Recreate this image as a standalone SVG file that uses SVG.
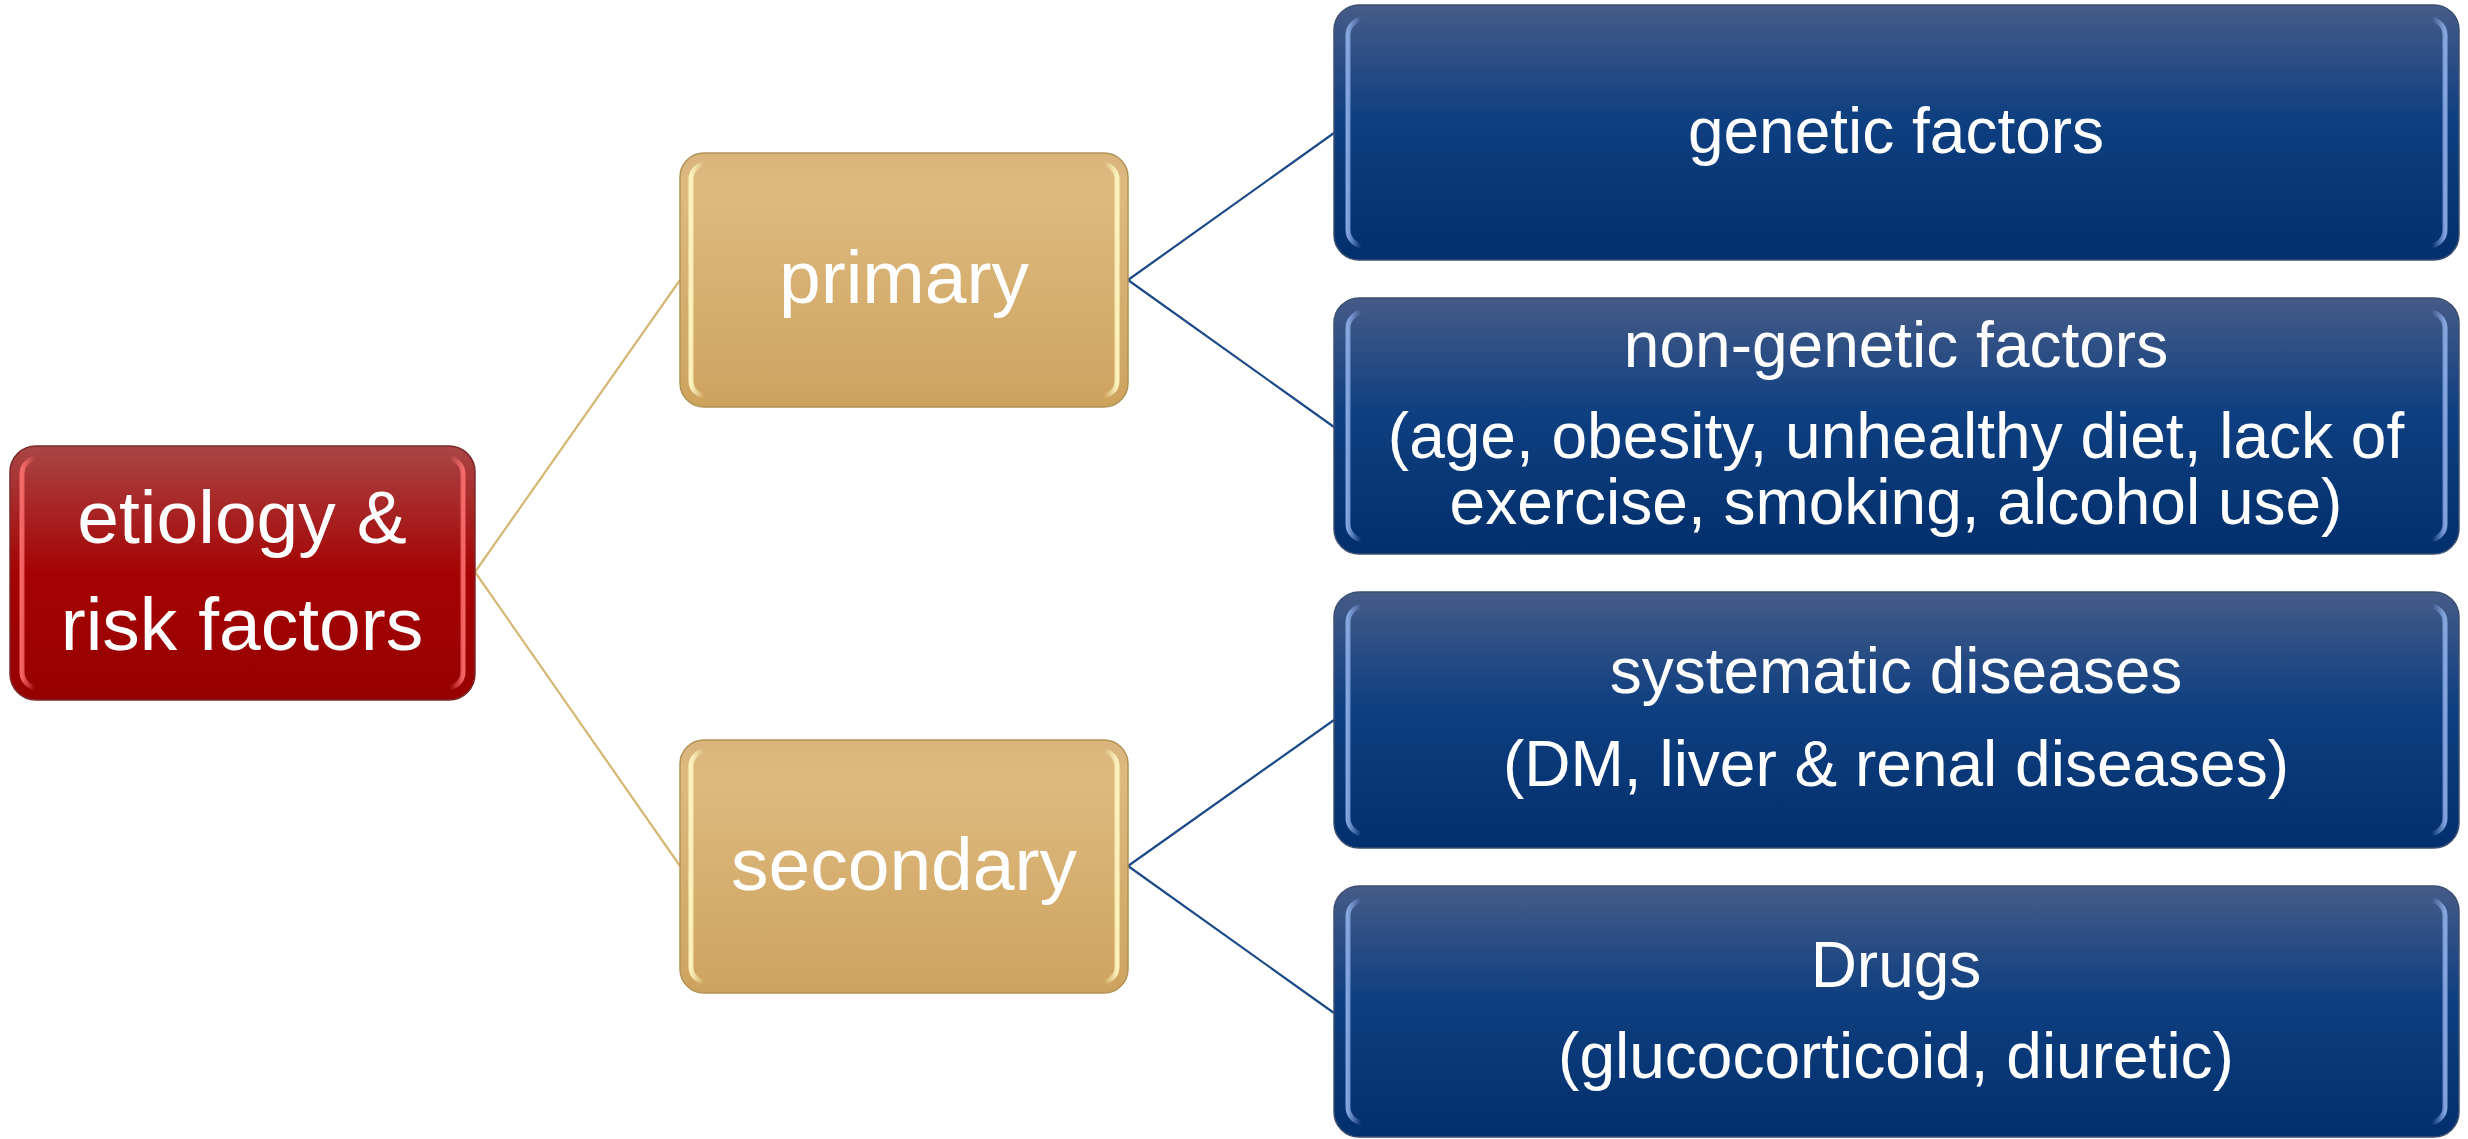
<svg xmlns="http://www.w3.org/2000/svg" width="2468" height="1139" viewBox="0 0 2468 1139">
<defs>
<linearGradient id="gRed" x1="0" y1="0" x2="0" y2="1">
<stop offset="0" stop-color="#aa4646"/>
<stop offset="0.5" stop-color="#a50303"/>
<stop offset="1" stop-color="#970000"/>
</linearGradient>
<linearGradient id="gTan" x1="0" y1="0" x2="0" y2="1">
<stop offset="0" stop-color="#d9b57c"/>
<stop offset="0.15" stop-color="#deba80"/>
<stop offset="1" stop-color="#cda35e"/>
</linearGradient>
<linearGradient id="gBlue" x1="0" y1="0" x2="0" y2="1">
<stop offset="0" stop-color="#465b88"/>
<stop offset="0.45" stop-color="#0e3f80"/>
<stop offset="1" stop-color="#022f6d"/>
</linearGradient>
<linearGradient id="hRed" x1="0" y1="0" x2="1" y2="0">
<stop offset="0" stop-color="#ff7070" stop-opacity="0.9"/>
<stop offset="0.03" stop-color="#ff7070" stop-opacity="0"/>
<stop offset="0.97" stop-color="#ff7070" stop-opacity="0"/>
<stop offset="1" stop-color="#ff7070" stop-opacity="0.9"/>
</linearGradient>
<linearGradient id="hTan" x1="0" y1="0" x2="1" y2="0">
<stop offset="0" stop-color="#fff6c0" stop-opacity="0.95"/>
<stop offset="0.03" stop-color="#fff6c0" stop-opacity="0"/>
<stop offset="0.97" stop-color="#fff6c0" stop-opacity="0"/>
<stop offset="1" stop-color="#fff6c0" stop-opacity="0.95"/>
</linearGradient>
<linearGradient id="hBlue" x1="0" y1="0" x2="1" y2="0">
<stop offset="0" stop-color="#8fb0ea" stop-opacity="0.9"/>
<stop offset="0.012" stop-color="#8fb0ea" stop-opacity="0"/>
<stop offset="0.988" stop-color="#8fb0ea" stop-opacity="0"/>
<stop offset="1" stop-color="#8fb0ea" stop-opacity="0.9"/>
</linearGradient>
</defs>
<style>
.red{fill:url(#gRed);stroke:#7a2a2a;stroke-width:1.5}
.tan{fill:url(#gTan);stroke:#b39257;stroke-width:1.5}
.blue{fill:url(#gBlue);stroke:#3d4f70;stroke-width:1.5}
.hred{fill:none;stroke:url(#hRed);stroke-width:5}
.htan{fill:none;stroke:url(#hTan);stroke-width:5}
.hblue{fill:none;stroke:url(#hBlue);stroke-width:5}
text{font-family:"Liberation Sans",Arial,sans-serif;fill:#ffffff;text-anchor:middle}
.big{font-size:75px}
.mid{font-size:64px}
.c-tan{fill:none;stroke:#d6b673;stroke-width:2.2}
.c-blue{fill:none;stroke:#1b4a86;stroke-width:2.2}
</style>
<g id="connectors">
<path class="c-tan" d="M475,572 L680,280"/>
<path class="c-tan" d="M475,572 L680,866"/>
<path class="c-blue" d="M1128,280 L1334,133"/>
<path class="c-blue" d="M1128,280 L1334,427"/>
<path class="c-blue" d="M1128,866 L1334,720"/>
<path class="c-blue" d="M1128,866 L1334,1013"/>
</g>
<g id="node-etiology">
<rect class="red" x="10" y="446" width="465" height="254" rx="26"/>
<rect class="hred" x="22" y="458" width="441" height="230" rx="16"/>
<text class="big" x="242" y="543">etiology &amp;</text>
<text class="big" x="242" y="650">risk factors</text>
</g>
<g id="node-primary">
<rect class="tan" x="680" y="153" width="448" height="254" rx="24"/>
<rect class="htan" x="691" y="164" width="426" height="232" rx="15"/>
<text class="big" x="904" y="303">primary</text>
</g>
<g id="node-secondary">
<rect class="tan" x="680" y="740" width="448" height="253" rx="24"/>
<rect class="htan" x="691" y="751" width="426" height="231" rx="15"/>
<text class="big" x="904" y="890">secondary</text>
</g>
<g id="node-genetic">
<rect class="blue" x="1334" y="5" width="1125" height="255" rx="25"/>
<rect class="hblue" x="1348" y="19" width="1097" height="227" rx="16"/>
<text class="mid" x="1896" y="153">genetic factors</text>
</g>
<g id="node-nongenetic">
<rect class="blue" x="1334" y="298" width="1125" height="256" rx="25"/>
<rect class="hblue" x="1348" y="312" width="1097" height="228" rx="16"/>
<text class="mid" x="1896" y="367">non-genetic factors</text>
<text class="mid" x="1896" y="458">(age, obesity, unhealthy diet, lack of</text>
<text class="mid" x="1896" y="524">exercise, smoking, alcohol use)</text>
</g>
<g id="node-systematic">
<rect class="blue" x="1334" y="592" width="1125" height="256" rx="25"/>
<rect class="hblue" x="1348" y="606" width="1097" height="228" rx="16"/>
<text class="mid" x="1896" y="693">systematic diseases</text>
<text class="mid" x="1896" y="786">(DM, liver &amp; renal diseases)</text>
</g>
<g id="node-drugs">
<rect class="blue" x="1334" y="886" width="1125" height="251" rx="25"/>
<rect class="hblue" x="1348" y="900" width="1097" height="223" rx="16"/>
<text class="mid" x="1896" y="987">Drugs</text>
<text class="mid" x="1896" y="1078">(glucocorticoid, diuretic)</text>
</g>
</svg>
